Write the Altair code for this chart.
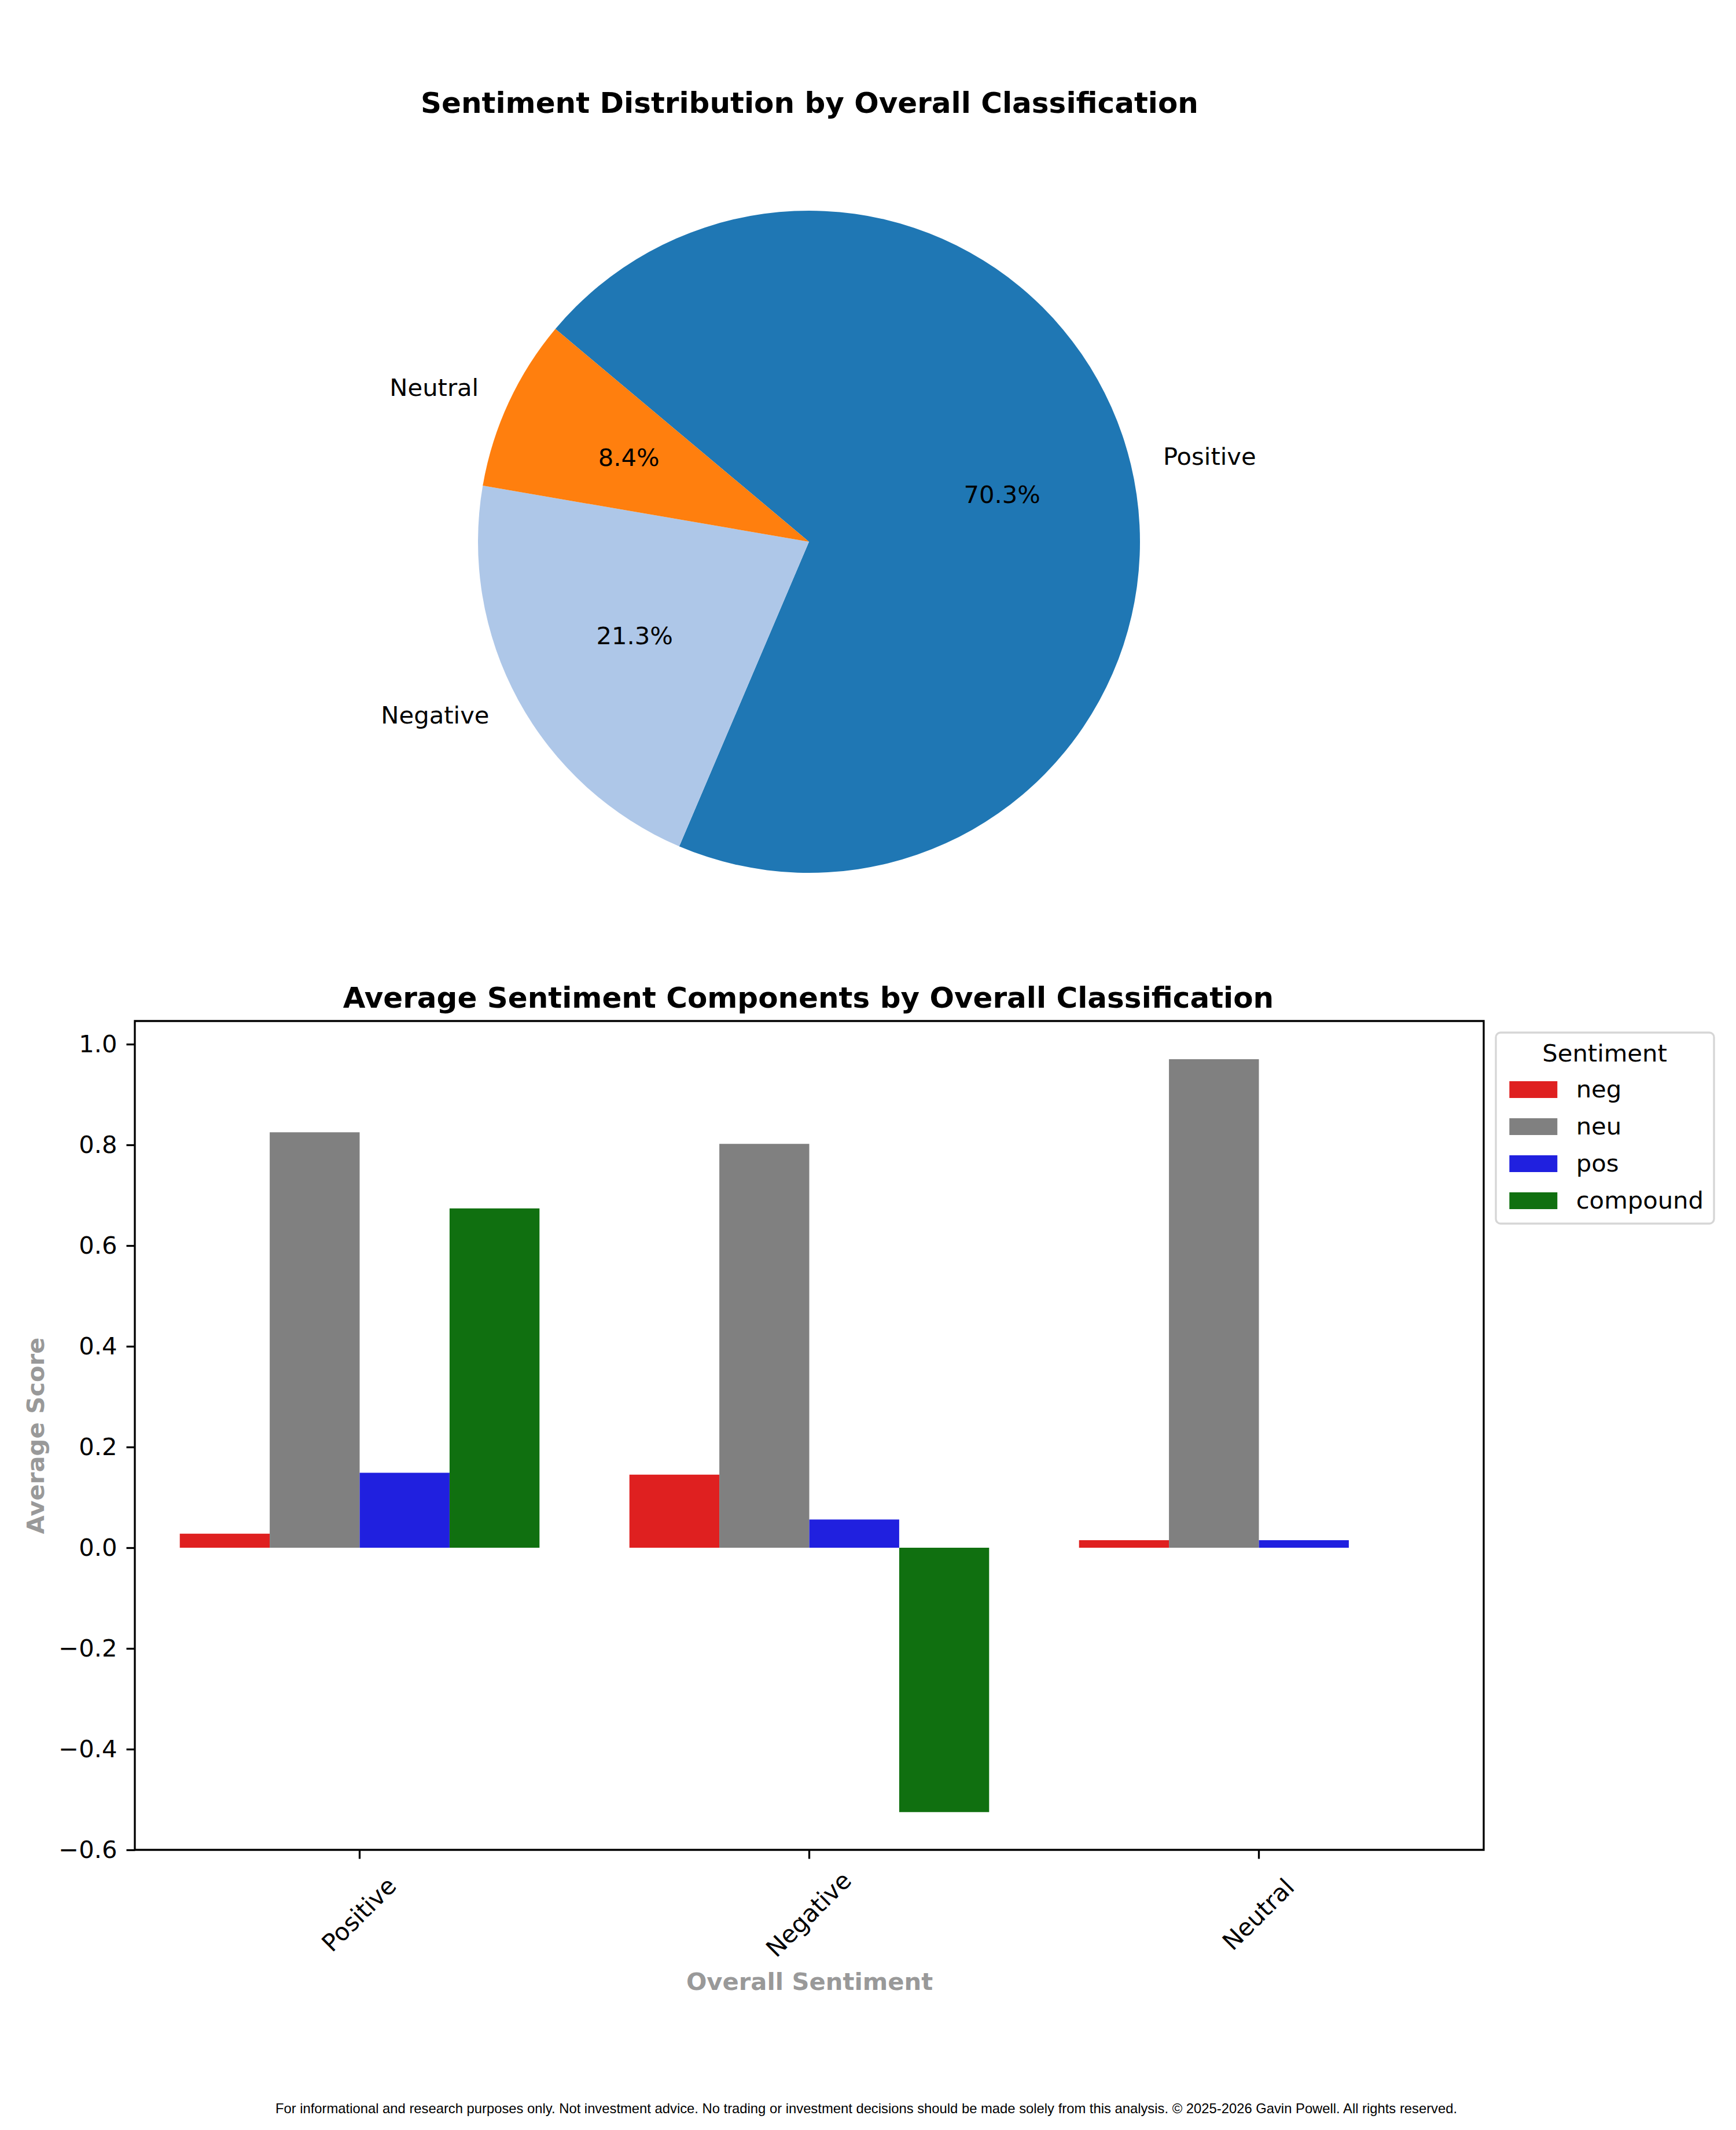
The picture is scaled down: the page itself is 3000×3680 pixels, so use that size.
import math
import altair as alt

# ---------------- data ----------------
pie_title = "Sentiment Distribution by Overall Classification"
bar_title = "Average Sentiment Components by Overall Classification"
footer_text = ("For informational and research purposes only. Not investment advice. "
               "No trading or investment decisions should be made solely from this analysis. "
               "\u00a9 2025-2026 Gavin Powell. All rights reserved.")

pie_labels = ["Positive", "Negative", "Neutral"]
pie_pcts = [70.3, 21.3, 8.4]
pie_colors = ["#1f77b4", "#aec7e8", "#ff7f0e"]

categories = ["Positive", "Negative", "Neutral"]
components = ["neg", "neu", "pos", "compound"]
comp_colors = ["#df2020", "#808080", "#2020df", "#107010"]
neg_vals = [0.028, 0.145, 0.015]
neu_vals = [0.825, 0.802, 0.970]
pos_vals = [0.149, 0.056, 0.015]
compound_vals = [0.674, -0.525, None]

y_ticks = [-0.6, -0.4, -0.2, 0.0, 0.2, 0.4, 0.6, 0.8, 1.0]

# ---------------- layout constants ----------------
W, H = 2331, 1432
PAD_L, PAD_T = 225, 1756
PIE_CX, PIE_CY, PIE_R = 1165, -828, 572
START = math.radians(-50)

pie_rows = [{"label": l, "pct": p, "idx": i} for i, (l, p) in enumerate(zip(pie_labels, pie_pcts))]
bar_rows = []
for series, vals in zip(components, [neg_vals, neu_vals, pos_vals, compound_vals]):
    for c, v in zip(categories, vals):
        if v is not None:
            bar_rows.append({"cat": c, "comp": series, "val": v})

theta_scale = alt.Scale(domain=[0, 100], range=[START, START + 2 * math.pi])

base_pie = (
    alt.Chart(alt.Data(values=pie_rows))
    .transform_stack(stack="pct", groupby=[], as_=["t0", "t1"],
                     sort=[alt.SortField("idx", order="ascending")])
    .transform_calculate(
        mid="(datum.t0 + datum.t1) / 2",
        pct_label="format(datum.pct, '.1f') + '%'",
    )
    .transform_calculate(
        side=f"sin({START} + datum.mid / 100 * 2 * PI) >= 0 ? 'right' : 'left'"
    )
)

arcs = base_pie.mark_arc(outerRadius=PIE_R, innerRadius=0).encode(
    theta=alt.Theta("t0:Q", scale=theta_scale, stack=None),
    theta2="t1:Q",
    color=alt.Color("label:N", scale=alt.Scale(domain=pie_labels, range=pie_colors), legend=None),
    x=alt.value(PIE_CX),
    y=alt.value(PIE_CY),
)

txt_kw = dict(font="DejaVu Sans", fontSize=41.7, color="black", baseline="middle")
theta_mid = alt.Theta("mid:Q", scale=theta_scale, stack=None)

outer_right = base_pie.transform_filter("datum.side == 'right'").mark_text(
    radius=PIE_R * 1.1, align="left", **txt_kw
).encode(theta=theta_mid, text="label:N", x=alt.value(PIE_CX), y=alt.value(PIE_CY))

outer_left = base_pie.transform_filter("datum.side == 'left'").mark_text(
    radius=PIE_R * 1.1, align="right", **txt_kw
).encode(theta=theta_mid, text="label:N", x=alt.value(PIE_CX), y=alt.value(PIE_CY))

inner = base_pie.mark_text(radius=PIE_R * 0.6, align="center", **txt_kw).encode(
    theta=theta_mid, text="pct_label:N", x=alt.value(PIE_CX), y=alt.value(PIE_CY)
)

bars = alt.Chart(alt.Data(values=bar_rows)).mark_bar().encode(
    x=alt.X(
        "cat:N",
        sort=categories,
        title="Overall Sentiment",
        scale=alt.Scale(paddingInner=0.2, paddingOuter=0.1),
        axis=alt.Axis(
            labelAngle=-45, labelAlign="center", labelBaseline="middle",
            labelPadding=97, labelLimit=0, tickSize=15,
            titleY=241, titleBaseline="alphabetic",
        ),
    ),
    xOffset=alt.XOffset("comp:N", sort=components,
                        scale=alt.Scale(paddingInner=0, paddingOuter=0)),
    y=alt.Y(
        "val:Q",
        title="Average Score",
        scale=alt.Scale(domain=[-0.6, 1.046], nice=False),
        axis=alt.Axis(values=y_ticks, format=".1f", labelPadding=16, tickSize=15,
                      titleX=-158, titleY=H / 2, titleBaseline="alphabetic"),
    ),
    y2=alt.datum(0),
    color=alt.Color(
        "comp:N",
        sort=components,
        scale=alt.Scale(domain=components, range=comp_colors),
        legend=alt.Legend(
            title="Sentiment", orient="none", legendX=2352, legendY=20,
            titleAnchor="middle", titleLimit=800, padding=17, cornerRadius=8,
            strokeColor="#d6d6d6", fillColor="white",
            symbolType="M-1,-1L4.72,-1L4.72,1L-1,1Z", symbolSize=841,
            symbolStrokeWidth=0, symbolOpacity=1,
            labelOffset=80, labelLimit=600, rowPadding=21, titlePadding=19,
        ),
    ),
)

def text_layer(s, x, y, size, weight="normal", font="DejaVu Sans"):
    return alt.Chart(alt.Data(values=[{"t": s}])).mark_text(
        font=font, fontSize=size, fontWeight=weight, color="black",
        align="center", baseline="alphabetic",
    ).encode(text="t:N", x=alt.value(x), y=alt.value(y))

pie_title_layer = text_layer(pie_title, 1166, 195 - 1764, 50, "bold")
bar_title_layer = text_layer(bar_title, 1164, 1741 - 1764, 50, "bold")
footer_layer = text_layer(footer_text, 1264, 3651 - 1764, 23.8, font="Liberation Sans")

chart = (
    alt.layer(bars, arcs, outer_right, outer_left, inner,
              pie_title_layer, bar_title_layer, footer_layer)
    .resolve_scale(color="independent")
    .properties(
        width=W, height=H,
        autosize=alt.AutoSizeParams(type="none"),
        padding={"left": PAD_L, "top": PAD_T, "right": 420, "bottom": 460},
        background="white",
    )
    .configure_view(stroke="black", strokeWidth=3.3)
    .configure_axis(
        grid=False, domain=False,
        labelFont="DejaVu Sans", labelFontSize=41.7, labelColor="black",
        tickColor="black", tickWidth=3.3,
        titleFont="DejaVu Sans", titleFontSize=41.7, titleFontWeight="bold",
        titleColor="#999999",
    )
    .configure_legend(
        labelFont="DejaVu Sans", labelFontSize=41.7, labelColor="black",
        titleFont="DejaVu Sans", titleFontSize=41.7, titleFontWeight="normal",
        titleColor="black", strokeWidth=3.3,
    )
)

chart.save("out.html", embed_options={"renderer": "svg", "actions": False})
